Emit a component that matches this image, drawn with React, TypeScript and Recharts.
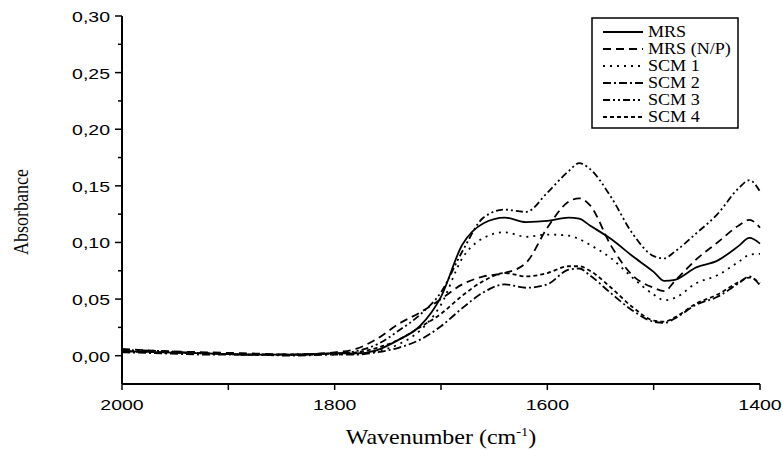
import { LineChart, Line, XAxis, YAxis, Legend } from "recharts";

// wavenumber (cm-1) sample points
const WAVENUMBERS = [2000, 1960, 1920, 1880, 1840, 1800, 1780, 1760, 1740, 1720, 1700, 1680, 1660, 1640, 1620, 1600, 1580, 1570, 1560, 1540, 1520, 1500, 1490, 1480, 1460, 1440, 1420, 1410, 1400];

const MRS = [0.004, 0.003, 0.002, 0.001, 0.001, 0.002, 0.002, 0.005, 0.014, 0.026, 0.052, 0.098, 0.117, 0.122, 0.118, 0.119, 0.122, 0.121, 0.115, 0.103, 0.088, 0.074, 0.066, 0.067, 0.078, 0.084, 0.097, 0.104, 0.099];
const MRS_NP = [0.006, 0.004, 0.003, 0.002, 0.001, 0.003, 0.006, 0.015, 0.028, 0.038, 0.05, 0.063, 0.07, 0.073, 0.082, 0.113, 0.136, 0.139, 0.133, 0.097, 0.071, 0.06, 0.057, 0.066, 0.085, 0.1, 0.115, 0.12, 0.113];
const SCM1 = [0.004, 0.003, 0.002, 0.001, 0.001, 0.001, 0.002, 0.004, 0.01, 0.022, 0.045, 0.086, 0.104, 0.109, 0.105, 0.107, 0.106, 0.103, 0.098, 0.086, 0.069, 0.054, 0.049, 0.051, 0.064, 0.071, 0.083, 0.089, 0.09];
const SCM2 = [0.003, 0.002, 0.001, 0.001, 0.0, 0.001, 0.001, 0.003, 0.007, 0.014, 0.026, 0.042, 0.056, 0.063, 0.06, 0.063, 0.076, 0.077, 0.071, 0.055, 0.04, 0.03, 0.029, 0.033, 0.045, 0.052, 0.064, 0.07, 0.062];
const SCM3 = [0.005, 0.004, 0.002, 0.001, 0.001, 0.002, 0.004, 0.01, 0.022, 0.036, 0.056, 0.092, 0.122, 0.129, 0.127, 0.144, 0.163, 0.17, 0.165, 0.14, 0.108, 0.088, 0.086, 0.092, 0.108, 0.125, 0.148, 0.155, 0.145];
const SCM4 = [0.004, 0.003, 0.002, 0.001, 0.001, 0.002, 0.003, 0.007, 0.014, 0.025, 0.037, 0.053, 0.066, 0.073, 0.07, 0.073, 0.079, 0.079, 0.075, 0.06, 0.043, 0.031, 0.03, 0.034, 0.046, 0.054, 0.065, 0.069, 0.064];

const X_TICKS = [2000, 1900, 1800, 1700, 1600, 1500, 1400];
const X_LABELS = [2000, 1800, 1600, 1400];
const Y_TICKS = [0, 0.025, 0.05, 0.075, 0.1, 0.125, 0.15, 0.175, 0.2, 0.225, 0.25, 0.275, 0.3];

const SERIES = [
  { key: "mrs", name: "MRS", values: MRS, dash: undefined as string | undefined },
  { key: "mrsNp", name: "MRS (N/P)", values: MRS_NP, dash: "8 5" },
  { key: "scm1", name: "SCM 1", values: SCM1, dash: "2 5" },
  { key: "scm2", name: "SCM 2", values: SCM2, dash: "8 3 2 3" },
  { key: "scm3", name: "SCM 3", values: SCM3, dash: "7 3 2 3 2 3" },
  { key: "scm4", name: "SCM 4", values: SCM4, dash: "4 3" },
];

const data = WAVENUMBERS.map((wn, i) => {
  const row: Record<string, number> = { wn };
  SERIES.forEach((s) => (row[s.key] = s.values[i]));
  return row;
});

const SANS = "'Liberation Sans', Arial, sans-serif";
const SERIF = "'Liberation Serif', 'Times New Roman', serif";

const YTick = ({ x, y, payload }: any) => {
  const v = payload.value as number;
  const major = Math.round(v * 1000) % 50 === 0;
  return (
    <g>
      <line x1={x} x2={x - (major ? 7 : 4)} y1={y} y2={y} stroke="#000" strokeWidth={1.5} />
      {major && (
        <text transform={`translate(${x - 12},${y + 6}) scale(1.3,1)`} textAnchor="end" fontFamily={SANS} fontSize={15} fill="#000">
          {v.toFixed(2).replace(".", ",")}
        </text>
      )}
    </g>
  );
};

const XTick = ({ x, y, payload }: any) => {
  const v = payload.value as number;
  const major = X_LABELS.includes(v);
  return (
    <g>
      <line x1={x} x2={x} y1={y} y2={y + 6} stroke="#000" strokeWidth={1.5} />
      {major && (
        <text transform={`translate(${x},${y + 26}) scale(1.3,1)`} textAnchor="middle" fontFamily={SANS} fontSize={15} fill="#000">
          {v}
        </text>
      )}
    </g>
  );
};

const XTitle = ({ viewBox }: any) => {
  const cx = viewBox.x + viewBox.width / 2;
  return (
    <text transform={`translate(${cx},${viewBox.y + 60}) scale(1.2,1)`} textAnchor="middle" fontFamily={SERIF} fontSize={20} fill="#000">
      Wavenumber (cm
      <tspan fontSize={12} dy={-8}>-1</tspan>
      <tspan dy={8}>)</tspan>
    </text>
  );
};

const YTitle = ({ viewBox }: any) => {
  const cy = viewBox.y + viewBox.height / 2 + 12;
  return (
    <text transform={`translate(${viewBox.x - 34},${cy}) rotate(-90) scale(1,1.2)`} textAnchor="middle" fontFamily={SERIF} fontSize={18} fill="#000">
      Absorbance
    </text>
  );
};

const LegendBox = () => (
  <svg width={148} height={112} style={{ display: "block" }}>
    <rect x={1} y={1} width={146} height={110} fill="#fff" stroke="#000" strokeWidth={1.5} />
    {SERIES.map((s, i) => {
      const cy = 15 + i * 17;
      return (
        <g key={s.key}>
          <line x1={12} x2={52} y1={cy} y2={cy} stroke="#000" strokeWidth={1.8} strokeDasharray={s.dash} />
          <text transform={`translate(57,${cy + 5}) scale(1.13,1)`} fontFamily={SERIF} fontSize={16} fill="#000">
            {s.name}
          </text>
        </g>
      );
    })}
  </svg>
);

export default function App() {
  return (
    <div style={{ position: "absolute", left: 0, top: 0, background: "#fff" }}>
      <LineChart width={783} height={450} data={data} margin={{ top: 16, right: 23, bottom: 26, left: 62 }}>
        <XAxis
          dataKey="wn"
          type="number"
          domain={[1400, 2000]}
          reversed
          ticks={X_TICKS}
          interval={0}
          tick={<XTick />}
          tickLine={false}
          tickSize={0}
          tickMargin={0}
          height={40}
          axisLine={{ stroke: "#000", strokeWidth: 2 }}
          label={<XTitle />}
        />
        <YAxis
          type="number"
          domain={[-0.025, 0.3]}
          ticks={Y_TICKS}
          interval={0}
          tick={<YTick />}
          tickLine={false}
          tickSize={0}
          tickMargin={0}
          width={60}
          axisLine={{ stroke: "#000", strokeWidth: 2 }}
          label={<YTitle />}
          allowDataOverflow
        />
        <Legend
          layout="vertical"
          align="center"
          verticalAlign="middle"
          content={<LegendBox />}
          wrapperStyle={{ left: 591, top: 17, width: 148, height: 112 }}
        />
        {SERIES.map((s) => (
          <Line
            key={s.key}
            dataKey={s.key}
            name={s.name}
            type="monotone"
            stroke="#000"
            strokeWidth={1.8}
            strokeDasharray={s.dash}
            dot={false}
            activeDot={false}
            isAnimationActive={false}
          />
        ))}
      </LineChart>
    </div>
  );
}
